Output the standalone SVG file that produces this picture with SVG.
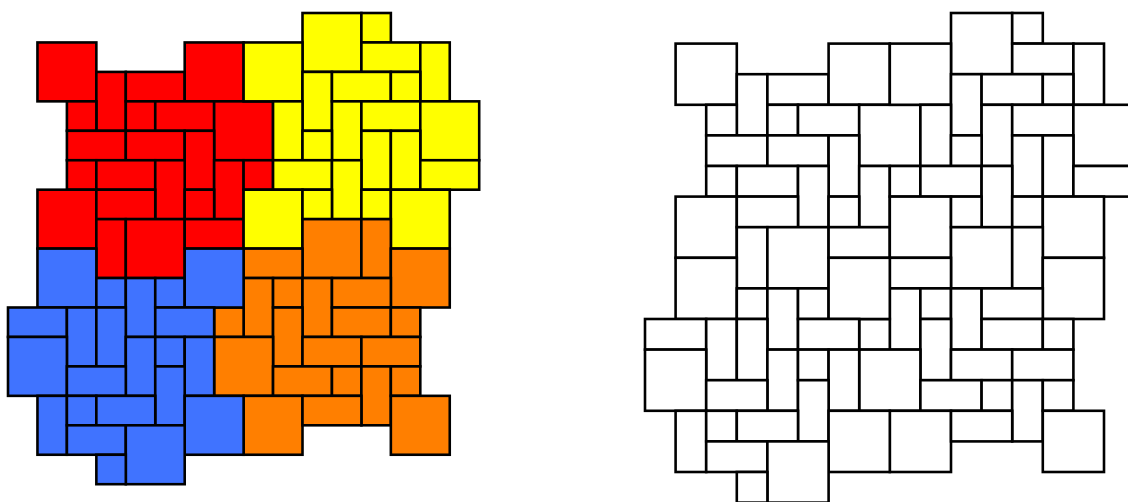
<svg xmlns="http://www.w3.org/2000/svg" xmlns:xlink="http://www.w3.org/1999/xlink" width="1128" height="502" viewBox="0 0 1128 502">
<style>
.t rect{stroke:#000;stroke-linejoin:miter}
</style>
<defs>
<g id="red-tiles">
<rect x="1" y="1" width="2" height="2"/><rect x="3" y="2" width="1" height="2"/><rect x="4" y="2" width="2" height="1"/><rect x="6" y="1" width="2" height="2"/>
<rect x="2" y="3" width="1" height="1"/><rect x="4" y="3" width="1" height="1"/><rect x="5" y="3" width="2" height="1"/><rect x="7" y="3" width="2" height="2"/>
<rect x="2" y="4" width="2" height="1"/><rect x="4" y="4" width="2" height="1"/><rect x="6" y="4" width="1" height="2"/><rect x="2" y="5" width="1" height="1"/>
<rect x="3" y="5" width="2" height="1"/><rect x="5" y="5" width="1" height="2"/><rect x="7" y="5" width="1" height="2"/><rect x="8" y="5" width="1" height="1"/>
<rect x="1" y="6" width="2" height="2"/><rect x="3" y="6" width="2" height="1"/><rect x="6" y="6" width="1" height="1"/><rect x="3" y="7" width="1" height="2"/>
<rect x="4" y="7" width="2" height="2"/><rect x="6" y="7" width="2" height="1"/>
</g>
<g id="yellow-tiles">
<rect x="10" y="0" width="2" height="2"/><rect x="12" y="0" width="1" height="1"/><rect x="8" y="1" width="2" height="2"/><rect x="12" y="1" width="2" height="1"/>
<rect x="14" y="1" width="1" height="2"/><rect x="10" y="2" width="1" height="2"/><rect x="11" y="2" width="2" height="1"/><rect x="13" y="2" width="1" height="1"/>
<rect x="9" y="3" width="1" height="2"/><rect x="11" y="3" width="1" height="2"/><rect x="12" y="3" width="2" height="1"/><rect x="14" y="3" width="2" height="2"/>
<rect x="10" y="4" width="1" height="1"/><rect x="12" y="4" width="1" height="2"/><rect x="13" y="4" width="1" height="2"/><rect x="9" y="5" width="2" height="1"/>
<rect x="11" y="5" width="1" height="2"/><rect x="14" y="5" width="2" height="1"/><rect x="8" y="6" width="2" height="2"/><rect x="10" y="6" width="1" height="1"/>
<rect x="12" y="6" width="1" height="1"/><rect x="13" y="6" width="2" height="2"/>
</g>
<g id="orange-tiles">
<rect x="10" y="7" width="2" height="2"/><rect x="12" y="7" width="1" height="2"/><rect x="8" y="8" width="2" height="1"/><rect x="13" y="8" width="2" height="2"/>
<rect x="8" y="9" width="1" height="2"/><rect x="9" y="9" width="1" height="1"/><rect x="10" y="9" width="1" height="2"/><rect x="11" y="9" width="2" height="1"/>
<rect x="7" y="10" width="1" height="1"/><rect x="9" y="10" width="1" height="2"/><rect x="11" y="10" width="2" height="1"/><rect x="13" y="10" width="1" height="1"/>
<rect x="7" y="11" width="2" height="2"/><rect x="10" y="11" width="2" height="1"/><rect x="12" y="11" width="2" height="1"/><rect x="9" y="12" width="2" height="1"/>
<rect x="11" y="12" width="1" height="1"/><rect x="12" y="12" width="1" height="2"/><rect x="13" y="12" width="1" height="1"/><rect x="8" y="13" width="2" height="2"/>
<rect x="10" y="13" width="2" height="1"/><rect x="13" y="13" width="2" height="2"/>
</g>
<g id="blue-tiles">
<rect x="1" y="8" width="2" height="2"/><rect x="3" y="9" width="1" height="1"/><rect x="4" y="9" width="1" height="2"/><rect x="5" y="9" width="1" height="1"/>
<rect x="6" y="8" width="2" height="2"/><rect x="0" y="10" width="2" height="1"/><rect x="2" y="10" width="1" height="2"/><rect x="3" y="10" width="1" height="2"/>
<rect x="5" y="10" width="2" height="1"/><rect x="0" y="11" width="2" height="2"/><rect x="4" y="11" width="1" height="2"/><rect x="5" y="11" width="1" height="1"/>
<rect x="6" y="11" width="1" height="2"/><rect x="2" y="12" width="2" height="1"/><rect x="5" y="12" width="1" height="2"/><rect x="1" y="13" width="1" height="2"/>
<rect x="2" y="13" width="1" height="1"/><rect x="3" y="13" width="2" height="1"/><rect x="6" y="13" width="2" height="2"/><rect x="2" y="14" width="2" height="1"/>
<rect x="4" y="14" width="2" height="2"/><rect x="3" y="15" width="1" height="1"/>
</g>
</defs>
<g id="coloured-tiling" class="t" transform="translate(8,13) scale(29.45,29.45)" stroke="#000" stroke-width="0.088">
<use id="red-region" xlink:href="#red-tiles" href="#red-tiles" fill="#ff0000"/>
<use id="yellow-region" xlink:href="#yellow-tiles" href="#yellow-tiles" fill="#ffff00"/>
<use id="orange-region" xlink:href="#orange-tiles" href="#orange-tiles" fill="#ff7f00"/>
<use id="blue-region" xlink:href="#blue-tiles" href="#blue-tiles" fill="#4073ff"/>
</g>
<g id="plain-tiling" class="t" transform="translate(645,13) scale(30.6,30.6)" stroke="#000" stroke-width="0.085">
<use xlink:href="#red-tiles" href="#red-tiles" fill="#fff"/>
<use xlink:href="#yellow-tiles" href="#yellow-tiles" fill="#fff"/>
<use xlink:href="#orange-tiles" href="#orange-tiles" fill="#fff"/>
<use xlink:href="#blue-tiles" href="#blue-tiles" fill="#fff"/>
</g>
</svg>
